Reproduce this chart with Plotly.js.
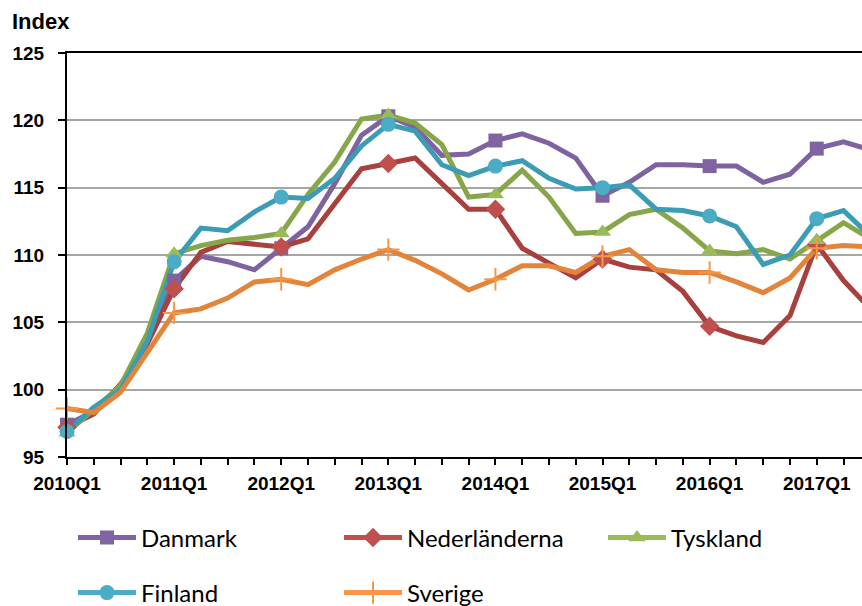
<!DOCTYPE html>
<html>
<head>
<meta charset="utf-8">
<script src="https://cdn.plot.ly/plotly-3.0.1.min.js"></script>
<style>
  html, body { margin: 0; padding: 0; background: #ffffff; }
  #chart { width: 862px; height: 606px; }
</style>
</head>
<body>
<div id="chart"></div>
<script>
// Quarters (the reference is cropped at the right edge, during 2017Q3)
var quarters = [
  '2010Q1','2010Q2','2010Q3','2010Q4',
  '2011Q1','2011Q2','2011Q3','2011Q4',
  '2012Q1','2012Q2','2012Q3','2012Q4',
  '2013Q1','2013Q2','2013Q3','2013Q4',
  '2014Q1','2014Q2','2014Q3','2014Q4',
  '2015Q1','2015Q2','2015Q3','2015Q4',
  '2016Q1','2016Q2','2016Q3','2016Q4',
  '2017Q1','2017Q2','2017Q3'
];
var tickLabels = ['2010Q1','2011Q1','2012Q1','2013Q1','2014Q1','2015Q1','2016Q1','2017Q1'];
var yTicks = [95, 100, 105, 110, 115, 120, 125];

var danmark = [97.4, 98.4, 100.3, 103.5, 108.1, 109.9, 109.5, 108.9,
               110.5, 112.1, 115.3, 118.9, 120.3, 119.5, 117.4, 117.5,
               118.5, 119.0, 118.3, 117.2, 114.4, 115.4, 116.7, 116.7,
               116.6, 116.6, 115.4, 116.0, 117.9, 118.4, 117.8];
var nederlanderna = [97.2, 98.2, 100.4, 103.4, 107.5, 110.2, 111.0, 110.8,
               110.6, 111.2, 113.8, 116.4, 116.8, 117.2, 115.3, 113.4,
               113.4, 110.5, 109.4, 108.3, 109.7, 109.1, 108.9, 107.3,
               104.7, 104.0, 103.5, 105.5, 110.8, 108.1, 106.0];
var tyskland = [96.8, 98.5, 100.3, 104.2, 110.1, 110.7, 111.1, 111.3,
               111.6, 114.5, 116.9, 120.1, 120.4, 119.8, 118.2, 114.3,
               114.5, 116.3, 114.3, 111.6, 111.7, 113.0, 113.4, 112.0,
               110.3, 110.1, 110.4, 109.7, 111.1, 112.4, 111.2];
var finland = [96.9, 98.7, 100.0, 103.6, 109.5, 112.0, 111.8, 113.2,
               114.3, 114.2, 115.7, 118.1, 119.7, 119.2, 116.7, 115.9,
               116.6, 117.0, 115.7, 114.9, 115.0, 115.2, 113.4, 113.3,
               112.9, 112.1, 109.3, 110.0, 112.7, 113.3, 111.4];
var sverige = [98.6, 98.3, 99.8, 102.8, 105.7, 106.0, 106.8, 108.0,
               108.2, 107.8, 108.9, 109.7, 110.4, 109.6, 108.6, 107.4,
               108.2, 109.2, 109.2, 108.7, 109.9, 110.4, 108.9, 108.7,
               108.7, 108.0, 107.2, 108.3, 110.5, 110.7, 110.6];

var seriesNames = ['Danmark', 'Nederländerna', 'Tyskland', 'Finland', 'Sverige'];
var seriesData = [danmark, nederlanderna, tyskland, finland, sverige];
var lineColors = ['#7F63A1', '#A8403D', '#87A64A', '#3C9CB5', '#E2843A'];
var markerColors = ['#8064A2', '#C0504D', '#9BBB59', '#4BACC6', '#F79646'];
var markerSymbols = ['square', 'diamond', 'triangle-up', 'circle', 'cross-thin'];
var markerSizes = [14, 15, 15, 15, 16];

var xIdx = quarters.map(function (q, i) { return i; });
var tickVals = tickLabels.map(function (t) { return quarters.indexOf(t); });

function markerFor(k) {
  var m = { symbol: markerSymbols[k], size: markerSizes[k], color: markerColors[k] };
  if (markerSymbols[k] === 'cross-thin') {
    m.line = { color: markerColors[k], width: 2 };
  } else {
    m.line = { width: 0 };
  }
  return m;
}

var traces = [];
// lines
seriesData.forEach(function (vals, k) {
  traces.push({
    type: 'scatter', mode: 'lines', x: xIdx, y: vals,
    line: { color: lineColors[k], width: 5 },
    showlegend: false, hoverinfo: 'skip'
  });
});
// markers at each Q1
seriesData.forEach(function (vals, k) {
  var mx = [], my = [];
  tickVals.forEach(function (i) { mx.push(i); my.push(vals[i]); });
  traces.push({
    type: 'scatter', mode: 'markers', x: mx, y: my,
    marker: markerFor(k), cliponaxis: false,
    showlegend: false, hoverinfo: 'skip'
  });
});
// legend entries (one legend per entry so the positions can be placed exactly)
var legendIds = ['legend', 'legend2', 'legend3', 'legend4', 'legend5'];
seriesData.forEach(function (vals, k) {
  traces.push({
    type: 'scatter', mode: 'lines+markers', x: [-100], y: [-100],
    name: seriesNames[k],
    line: { color: markerColors[k], width: 5 },
    marker: markerFor(k),
    showlegend: true, legend: legendIds[k], hoverinfo: 'skip'
  });
});

var W = 862, H = 606, L = 67, R = 0, T = 53, B = 149;
function px2x(p) { return (p - L) / (W - L - R); }
function px2y(p) { return (H - B - p) / (H - T - B); }

var legendFont = { family: 'Lato, "Liberation Sans", sans-serif', size: 24, color: '#000000' };
function legendAt(px, py) {
  return {
    x: px2x(px), y: px2y(py), xanchor: 'left', yanchor: 'middle',
    orientation: 'v', font: legendFont, bgcolor: 'rgba(0,0,0,0)', borderwidth: 0,
    itemwidth: 58, itemclick: false, itemdoubleclick: false
  };
}

var layout = {
  width: W, height: H,
  margin: { l: L, r: R, t: T, b: B, pad: 0, autoexpand: false },
  paper_bgcolor: '#ffffff', plot_bgcolor: '#ffffff',
  font: { family: '"Liberation Sans", Arial, sans-serif', color: '#000000' },
  xaxis: {
    range: [0, 29.69], fixedrange: true,
    tickmode: 'array', tickvals: tickVals, ticktext: tickLabels,
    ticks: 'outside', ticklen: 6, tickwidth: 2, tickcolor: '#000000',
    minor: { tickmode: 'array', tickvals: xIdx, ticks: 'outside', ticklen: 6, tickwidth: 2, tickcolor: '#000000', showgrid: false },
    showgrid: false, zeroline: false,
    showline: true, linecolor: '#000000', linewidth: 2, mirror: true,
    tickfont: { family: '"Liberation Sans", Arial, sans-serif', size: 19, weight: 'bold', color: '#000000' },
    ticklabelstandoff: 2
  },
  yaxis: {
    range: [95, 125], fixedrange: true,
    tickmode: 'array', tickvals: yTicks,
    ticks: 'outside', ticklen: 7, tickwidth: 2, tickcolor: '#000000',
    showgrid: true, gridcolor: '#A6A6A6', gridwidth: 2, zeroline: false,
    showline: true, linecolor: '#000000', linewidth: 2,
    tickfont: { family: '"Liberation Sans", Arial, sans-serif', size: 19, weight: 'bold', color: '#000000' },
    ticklabelstandoff: 10
  },
  legend: legendAt(73, 538),
  legend2: legendAt(339, 538),
  legend3: legendAt(603, 538),
  legend4: legendAt(73, 593),
  legend5: legendAt(339, 593),
  annotations: [{
    xref: 'paper', yref: 'paper', x: px2x(10), y: px2y(22),
    xanchor: 'left', yanchor: 'middle', showarrow: false,
    text: 'Index',
    font: { family: '"Liberation Sans", Arial, sans-serif', size: 22, weight: 'bold', color: '#000000' }
  }],
  showlegend: true
};

Plotly.newPlot('chart', traces, layout, { displayModeBar: false, staticPlot: true });
</script>
</body>
</html>
